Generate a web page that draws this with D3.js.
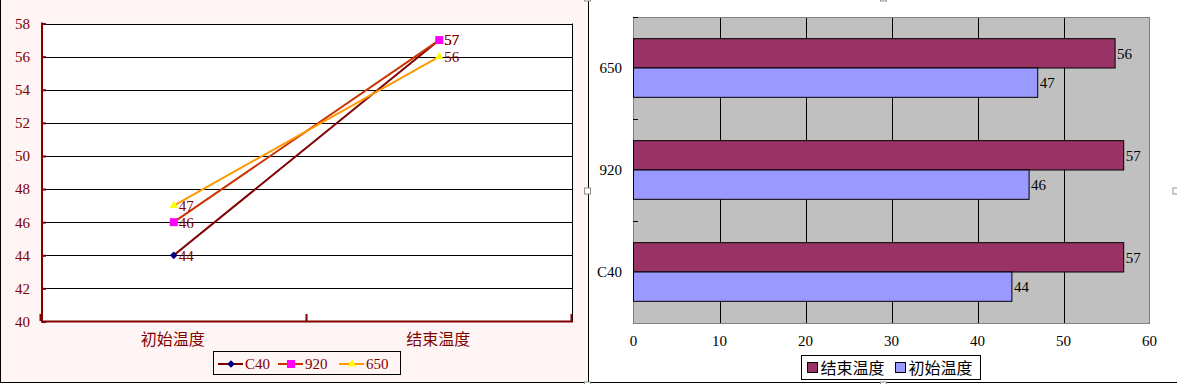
<!DOCTYPE html>
<html><head><meta charset="utf-8">
<script src="https://cdn.jsdelivr.net/npm/d3@7"></script>
<style>
html,body{margin:0;padding:0;background:#fff;overflow:hidden}
svg{display:block}
text{font-family:"Liberation Serif","Noto Sans CJK SC",serif}
</style></head>
<body>
<svg id="c" width="1177" height="384"></svg>
<script>
// ---- data ----
const stages = ["初始温度", "结束温度"];
const seriesNames = ["C40", "920", "650"];
const c40Values = [44, 57];
const s920Values = [46, 57];
const s650Values = [47, 56];
const lineYTicks = [40, 42, 44, 46, 48, 50, 52, 54, 56, 58];
const barCategories = ["650", "920", "C40"];        // top to bottom
const barSeries = ["结束温度", "初始温度"];
const endTemps = [56, 57, 57];    // 650, 920, C40
const startTemps = [47, 46, 44];  // 650, 920, C40
const barXTicks = [0, 10, 20, 30, 40, 50, 60];

const svg = d3.select("#c");
const DR = "#800000";

// ---------- LEFT PANEL ----------
svg.append("rect").attr("x", 0).attr("y", 0).attr("width", 588).attr("height", 383).attr("fill", "#fff5f5");
svg.append("line").attr("x1", 0.5).attr("x2", 0.5).attr("y1", 0).attr("y2", 383).attr("stroke", "#000");
svg.append("line").attr("x1", 0).attr("x2", 588).attr("y1", 382.5).attr("y2", 382.5).attr("stroke", "#000");

const L = svg.append("g");
const y1 = d3.scaleLinear().domain([40, 58]).range([321.5, 23.5]);
const x1 = d3.scaleBand().domain(stages).range([41, 572]).padding(0);

L.append("rect").attr("x", 41).attr("y", 23.5).attr("width", 531).attr("height", 298).attr("fill", "#fff");
// gridlines
L.selectAll("line.grid").data(lineYTicks.filter(d => d > 40)).join("line")
  .attr("x1", 41).attr("x2", 572).attr("y1", d => Math.round(y1(d)) + 0.5).attr("y2", d => Math.round(y1(d)) + 0.5)
  .attr("stroke", "#000");
L.append("line").attr("x1", 572.5).attr("x2", 572.5).attr("y1", 23.5).attr("y2", 322).attr("stroke", "#000");

// y axis
const yAx = L.append("g").attr("transform", "translate(42,0)")
  .call(d3.axisRight(y1).tickValues(lineYTicks).tickSize(4).tickFormat(""));
yAx.selectAll("line").attr("stroke", DR).attr("stroke-width", 2);
yAx.select(".domain").remove();
L.append("line").attr("x1", 42).attr("x2", 42).attr("y1", 22.5).attr("y2", 322.5).attr("stroke", DR).attr("stroke-width", 2);
L.selectAll("text.yl").data(lineYTicks).join("text")
  .attr("x", 30).attr("y", d => y1(d)).attr("dy", "0.36em").attr("text-anchor", "end")
  .attr("fill", DR).style("font-size", "15px").text(d => d);

// x axis
L.append("line").attr("x1", 41).attr("x2", 573).attr("y1", 321.5).attr("y2", 321.5).attr("stroke", DR).attr("stroke-width", 2);
const xb = [x1.range()[0]].concat(stages.map(s => x1(s) + x1.bandwidth()));
L.selectAll("line.xt").data(xb).join("line")
  .attr("x1", d => Math.round(d) - 0.5).attr("x2", d => Math.round(d) - 0.5).attr("y1", 314).attr("y2", 321)
  .attr("stroke", DR).attr("stroke-width", 2);
L.selectAll("text.xl").data(stages).join("text")
  .attr("x", d => x1(d) + x1.bandwidth() / 2 - 1).attr("y", 339).attr("dy", "0.36em").attr("text-anchor", "middle")
  .attr("fill", DR).style("font-size", "16px").text(d => d);

const lineSeries = [
  { name: "C40", values: c40Values, line: "#800000", marker: "#000080", shape: d3.symbolSquare, size: 30, rot: 45 },
  { name: "920", values: s920Values, line: "#cc3300", marker: "#ff00ff", shape: d3.symbolSquare, size: 64, rot: 0 },
  { name: "650", values: s650Values, line: "#ff9900", marker: "#ffff00", shape: d3.symbolTriangle, size: 30, rot: 0 }
];
const cx = s => x1(s) + x1.bandwidth() / 2;
const lineGen = d3.line().x((d, i) => cx(stages[i])).y(d => y1(d));
lineSeries.forEach(s => {
  L.append("path").attr("d", lineGen(s.values)).attr("fill", "none").attr("stroke", s.line).attr("stroke-width", 2);
});
lineSeries.forEach(s => {
  L.selectAll(null).data(s.values).join("path")
    .attr("d", d3.symbol().type(s.shape).size(s.size))
    .attr("transform", (d, i) => `translate(${cx(stages[i])},${y1(d)}) rotate(${s.rot})`)
    .attr("fill", s.marker);
});
lineSeries.forEach(s => {
  L.selectAll(null).data(s.values).join("text")
    .attr("x", (d, i) => cx(stages[i]) + 5).attr("y", d => y1(d)).attr("dy", "0.36em")
    .attr("fill", DR).style("font-size", "15px").text(d => d);
});

// legend left
const LG = L.append("g");
LG.append("rect").attr("x", 213.5).attr("y", 351.5).attr("width", 187).attr("height", 23).attr("fill", "#fff5f5").attr("stroke", "#000");
const legX = [218, 278, 339];
lineSeries.forEach((s, i) => {
  const g = LG.append("g").attr("transform", `translate(${legX[i]},364)`);
  g.append("line").attr("x1", 0).attr("x2", 25).attr("stroke", s.line).attr("stroke-width", 2);
  g.append("path").attr("d", d3.symbol().type(s.shape).size(s.size)).attr("transform", `translate(13,0) rotate(${s.rot})`).attr("fill", s.marker);
  g.append("text").attr("x", 27).attr("dy", "0.36em").attr("fill", DR).style("font-size", "15px").text(s.name);
});

// ---------- RIGHT PANEL ----------
svg.append("line").attr("x1", 588.5).attr("x2", 588.5).attr("y1", 0).attr("y2", 383).attr("stroke", "#000");
const R = svg.append("g");
const x2 = d3.scaleLinear().domain([0, 60]).range([633.5, 1149.5]);
const y2 = d3.scaleBand().domain(barCategories).range([17, 323]).paddingInner(0.425).paddingOuter(0.2125);
const y2s = d3.scaleBand().domain(barSeries).range([0, y2.bandwidth()]).padding(0);
const yOuter = d3.scaleBand().domain(barCategories).range([17, 323]).padding(0);

R.append("rect").attr("x", 633.5).attr("y", 17.5).attr("width", 516).attr("height", 306).attr("fill", "#c0c0c0");
R.selectAll("line.vg").data(barXTicks.filter(d => d > 0 && d < 60)).join("line")
  .attr("x1", d => Math.round(x2(d)) + 0.5).attr("x2", d => Math.round(x2(d)) + 0.5)
  .attr("y1", 17.5).attr("y2", 323.5).attr("stroke", "#000");
R.append("rect").attr("x", 633.5).attr("y", 17.5).attr("width", 516).attr("height", 306).attr("fill", "none").attr("stroke", "#808080");

// category boundary ticks
const bounds = barCategories.map(c => yOuter(c));
R.selectAll("line.ct").data(bounds).join("line")
  .attr("x1", 633).attr("x2", 638).attr("y1", d => Math.round(d) + 0.5).attr("y2", d => Math.round(d) + 0.5).attr("stroke", "#000");

const barData = [];
barCategories.forEach((c, i) => {
  barData.push({ cat: c, ser: "结束温度", v: endTemps[i], fill: "#993366" });
  barData.push({ cat: c, ser: "初始温度", v: startTemps[i], fill: "#9999ff" });
});
R.selectAll("rect.bar").data(barData).join("rect")
  .attr("x", x2(0)).attr("y", d => y2(d.cat) + y2s(d.ser))
  .attr("width", d => x2(d.v) - x2(0)).attr("height", y2s.bandwidth())
  .attr("fill", d => d.fill).attr("stroke", "#000");
R.selectAll("text.bv").data(barData).join("text")
  .attr("x", d => x2(d.v) + 2).attr("y", d => y2(d.cat) + y2s(d.ser) + y2s.bandwidth() / 2).attr("dy", "0.36em")
  .attr("fill", "#000").style("font-size", "15px").text(d => d.v);

R.selectAll("text.cl").data(barCategories).join("text")
  .attr("x", 622).attr("y", d => yOuter(d) + yOuter.bandwidth() / 2).attr("dy", "0.36em").attr("text-anchor", "end")
  .attr("fill", "#000").style("font-size", "15px").text(d => d);
R.selectAll("text.xl2").data(barXTicks).join("text")
  .attr("x", d => x2(d)).attr("y", 341).attr("dy", "0.36em").attr("text-anchor", "middle")
  .attr("fill", "#000").style("font-size", "15px").text(d => d);

// legend right
const RG = R.append("g");
RG.append("rect").attr("x", 801.5).attr("y", 355.5).attr("width", 179).attr("height", 24).attr("fill", "#fff").attr("stroke", "#000");
const rLegX = [807.5, 895.5];
barSeries.forEach((s, i) => {
  const col = i === 0 ? "#993366" : "#9999ff";
  RG.append("rect").attr("x", rLegX[i]).attr("y", 362.5).attr("width", 10).attr("height", 10).attr("fill", col).attr("stroke", "#000");
  RG.append("text").attr("x", rLegX[i] + 13).attr("y", 368).attr("dy", "0.36em").attr("fill", "#000").style("font-size", "16px").text(s);
});

// bottom border right panel
svg.append("line").attr("x1", 588).attr("x2", 1177).attr("y1", 382.5).attr("y2", 382.5).attr("stroke", "#000");

// selection handles
const handles = [[587.5, -2], [883.5, -2], [587.5, 191], [1176, 191], [587.5, 385], [883.5, 385]];
svg.selectAll("rect.h").data(handles).join("rect")
  .attr("x", d => d[0] - 3).attr("y", d => d[1] - 3).attr("width", 6).attr("height", 6)
  .attr("fill", "#fff").attr("stroke", "#909090");
</script>
</body></html>
